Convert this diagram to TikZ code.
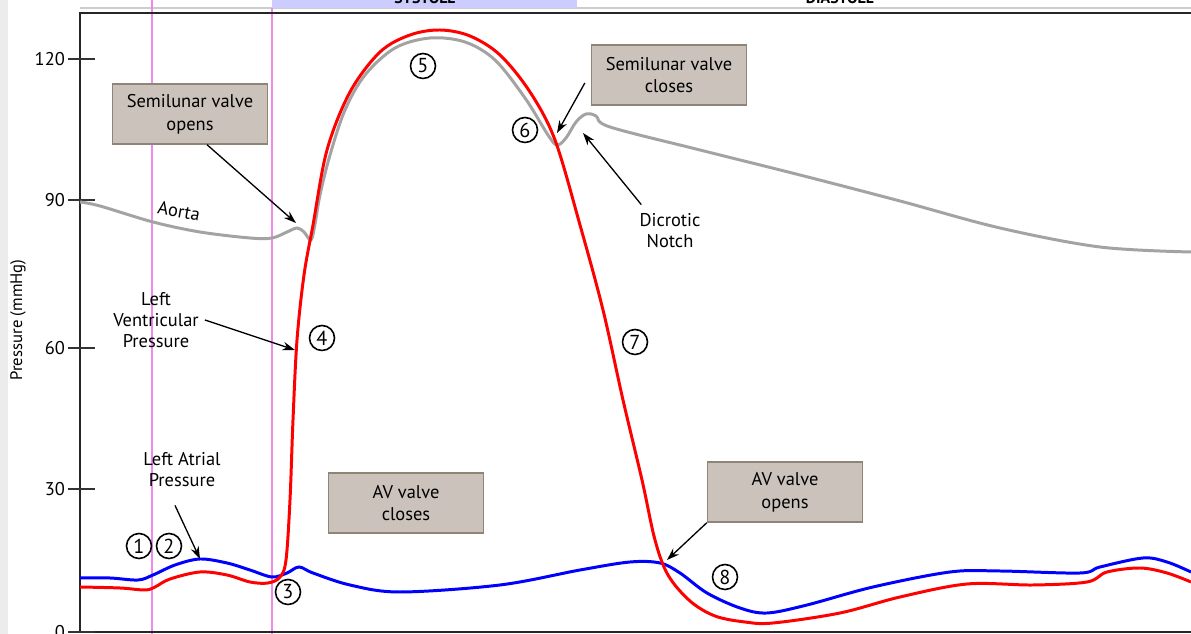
\documentclass[tikz,border=0pt]{standalone}
\usepackage{fontspec}
\setmainfont{PT Sans}
\usetikzlibrary{arrows.meta}

\definecolor{boxfill}{HTML}{CBC3BB}
\definecolor{boxline}{HTML}{8F8577}
\definecolor{phasebar}{HTML}{CCCCFF}
\definecolor{marker}{HTML}{F088F0}
\definecolor{aortagray}{HTML}{A3A3A3}

\begin{document}
\begin{tikzpicture}[x=0.02cm,y=-0.02cm,
    valvebox/.style={draw=boxline,fill=boxfill,line width=0.8pt,minimum width=3.1cm,
      minimum height=1.2cm,align=center,font=\fontsize{10.5}{13}\selectfont},
    stepnum/.style={circle,draw,line width=0.9pt,inner sep=0pt,minimum size=0.5cm,
      font=\fontsize{11.5}{13}\selectfont},
    plainlabel/.style={align=center,font=\fontsize{10.5}{12}\selectfont},
    pointer/.style={-{Stealth[length=2.5mm,width=1.7mm]},line width=0.75pt},
    trace/.style={line width=1.7pt,smooth,tension=0.55},
    tick/.style={line width=0.9pt,black!80}]
  \useasboundingbox (0,0) rectangle (1191,634);
  \clip (0,0) rectangle (1191,634);

  % page edge and phase header
  \fill [gray!15] (0,0) rectangle (8,634);
  \draw [gray!40, line width=0.6pt] (80,8) -- (1191,8);
  \fill [phasebar] (272,0) rectangle (577,8);
  \node [anchor=base, font=\bfseries\small] (systole) at (425,4) {SYSTOLE};
  \node [anchor=base, font=\bfseries\small] (diastole) at (840,4) {DIASTOLE};

  % phase markers
  \draw [marker, line width=1.2pt] (152,0) -- (152,634);
  \draw [marker, line width=1.2pt] (272,8) -- (272,634);

  % frame and axis
  \draw [black!85, line width=1.1pt] (1191,13) -- (80,13) -- (80,632) -- (1191,632);
  \foreach \val/\ypos in {120/59, 90/200, 60/348, 30/489, 0/632} {
    \draw [tick] (68,\ypos) -- (95,\ypos);
    \node [anchor=east, inner sep=1pt, font=\fontsize{10.5}{12}\selectfont] at (67,\ypos) {\val};
  }
  \node [rotate=90, font=\fontsize{9.5}{11}\selectfont] (ylab) at (18,320) {Pressure (mmHg)};

  % aortic pressure
  \draw [aortagray, trace] plot coordinates {(80,202) (100,206) (153,222) (200,232)
    (250,238) (272,238) (287,232) (297,228) (304,232) (311,240) (315,224) (320,195)
    (330,155) (345,110) (365,75) (395,48) (430,38) (465,42) (495,60) (525,98)
    (548,135) (557,145) (566,138) (576,122) (586,114) (596,116) (610,127) (700,150)
    (800,175) (900,201) (1000,228) (1100,247) (1191,252)};
  \node [rotate=-10, font=\fontsize{10.5}{12}\selectfont] (aorta) at (179,211) {Aorta};

  % left atrial pressure
  \draw [blue, trace] plot coordinates {(80,578) (110,578) (138,580) (153,575) (175,565)
    (200,559) (227,563) (250,570) (272,577) (287,573) (299,567) (313,573) (350,585)
    (400,592) (500,585) (580,570) (630,562) (660,563) (680,573) (707,593) (740,608)
    (767,613) (807,605) (873,587) (950,572) (1000,571) (1080,573) (1100,567)
    (1143,558) (1167,562) (1191,572)};

  % left ventricular pressure
  \draw [red, trace] plot coordinates {(80,587) (120,588) (145,590) (155,587) (170,579)
    (200,572) (227,575) (250,582) (268,583) (280,577) (286,560) (290,500) (293,420)
    (297,340) (304,275) (313,225) (327,150) (350,92) (380,52) (410,35)
    (440,30) (470,36) (500,55) (530,92) (555,140) (580,225) (603,310)
    (623,400) (642,480) (655,540) (668,575) (690,601) (715,616) (745,622) (773,623)
    (840,613) (900,597) (967,584) (1033,585) (1087,582) (1107,572) (1140,568)
    (1167,573) (1191,582)};

  % arrow targets on the traces
  \coordinate (svotip) at (296,223);
  \coordinate (lvtip) at (295,350);
  \coordinate (latip) at (200,559);
  \coordinate (svctip) at (557,133);
  \coordinate (dntip) at (583,133);
  \coordinate (avotip) at (667,560);

  % event boxes
  \node [valvebox] (svopen) at (190,114) {Semilunar valve\\opens};
  \node [valvebox] (svclose) at (669,75) {Semilunar valve\\closes};
  \node [valvebox] (avclose) at (406,503) {AV valve\\closes};
  \node [valvebox] (avopen) at (785,492) {AV valve\\opens};

  % free labels
  \node [plainlabel] (lvp) at (156,320) {Left\\Ventricular\\Pressure};
  \node [plainlabel] (lap) at (182,470) {Left Atrial\\Pressure};
  \node [plainlabel] (dnotch) at (670,231) {Dicrotic\\Notch};

  \draw [pointer] ([shift={(17,0)}]svopen.south) -- (svotip);
  \draw [pointer] (lvp.east) -- (lvtip);
  \draw [pointer] ([shift={(-7,12)}]lap.south) -- (latip);
  \draw [pointer] ([shift={(-6,8)}]svclose.west) -- (svctip);
  \draw [pointer] ([shift={(8,-3)}]dnotch.north west) -- (dntip);
  \draw [pointer] (avopen.south west) -- (avotip);

  % numbered steps
  \node [stepnum] (n1) at (139,546) {1};
  \node [stepnum] (n2) at (169,546) {2};
  \node [stepnum] (n3) at (288,592) {3};
  \node [stepnum] (n4) at (322,338) {4};
  \node [stepnum] (n5) at (423,66) {5};
  \node [stepnum] (n6) at (525,130) {6};
  \node [stepnum] (n7) at (635,342) {7};
  \node [stepnum] (n8) at (725,577) {8};
\end{tikzpicture}
\end{document}
